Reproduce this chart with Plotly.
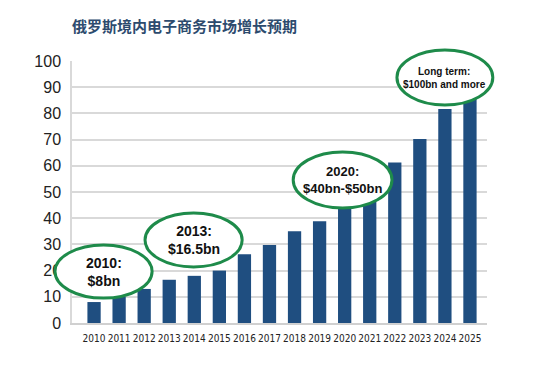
import plotly.graph_objects as go

years = ["2010", "2011", "2012", "2013", "2014", "2015", "2016", "2017",
         "2018", "2019", "2020", "2021", "2022", "2023", "2024", "2025"]
values = [8, 10, 13, 16.5, 18, 20, 26.2, 29.8, 35, 38.8, 45, 49, 61.3, 70.2, 81.7, 90]
y_ticks = [0, 10, 20, 30, 40, 50, 60, 70, 80, 90, 100]
title_text = "俄罗斯境内电子商务市场增长预期"
callouts = ["2010:<br>$8bn", "2013:<br>$16.5bn", "2020:<br>$40bn-$50bn",
            "Long term:<br>$100bn and more"]

# page has an 8px body margin
W, H = 541, 362
L, R, T, B = 64, 62, 53, 47
PW, PH = W - L - R, H - T - B

fig = go.Figure(go.Bar(x=years, y=values, marker_color="#1f4e80",
                       marker_line_width=0, width=0.53))

# ellipse boxes in paper coords
boxes = [(-0.041, 0.095, 0.193, 0.298, 14),
         (0.176, 0.214, 0.410, 0.420, 14),
         (0.533, 0.439, 0.771, 0.653, 13),
         (0.783, 0.832, 1.014, 1.042, 10)]
shapes = []
annotations = []
for (x0, y0, x1, y1, fs), txt in zip(boxes, callouts):
    shapes.append(dict(type="circle", xref="paper", yref="paper",
                       x0=x0, y0=y0, x1=x1, y1=y1,
                       fillcolor="white", line=dict(color="#1e8b4a", width=3),
                       layer="above"))
    annotations.append(dict(xref="paper", yref="paper", x=(x0 + x1) / 2,
                            y=(y0 + y1) / 2, text="<b>" + txt + "</b>",
                            showarrow=False, xanchor="center", yanchor="middle",
                            font=dict(family="Liberation Sans, Arial", size=fs,
                                      color="#111111")))

annotations.append(dict(xref="paper", yref="paper", x=(62 - L) / PW,
                        y=(H - B - 18) / PH, xanchor="left",
                        yanchor="middle", showarrow=False,
                        text="<b>" + title_text + "</b>",
                        font=dict(family="Noto Sans CJK SC", size=15,
                                  color="#2d4b6e")))

fig.update_layout(
    width=W, height=H,
    margin=dict(l=L, r=R, t=T, b=B, autoexpand=False),
    paper_bgcolor="white", plot_bgcolor="white",
    shapes=shapes, annotations=annotations,
    showlegend=False,
    xaxis=dict(type="category", range=[-0.88, 15.68], showgrid=False,
               showline=True, linecolor="#d0d0d0", linewidth=2,
               ticks="", tickangle=0, automargin=False, ticklabelstandoff=5,
               tickfont=dict(family="DejaVu Sans Condensed, Liberation Sans Narrow",
                             size=10, color="#222222")),
    yaxis=dict(range=[0, 100], tickvals=y_ticks, showgrid=True,
               gridcolor="#d9d9d9", gridwidth=1.5, zeroline=False,
               showline=True, linecolor="#d9d9d9", linewidth=1.5,
               ticks="", ticklabelstandoff=6, automargin=False,
               tickfont=dict(family="Liberation Sans, Arial", size=16,
                             color="#222222")),
)

fig.write_html("out.html")
